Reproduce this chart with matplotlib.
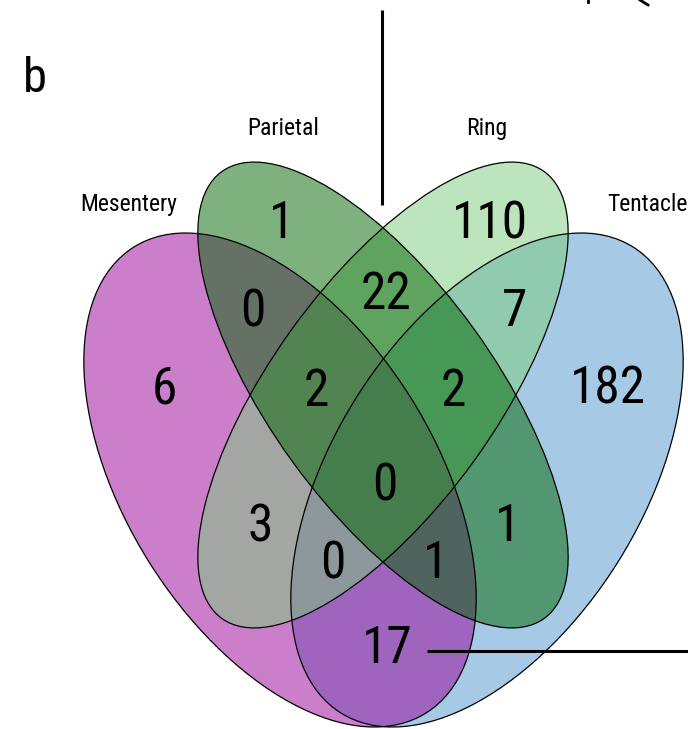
import matplotlib
matplotlib.use('Agg')
import matplotlib.pyplot as plt
from matplotlib import font_manager
from matplotlib.font_manager import FontProperties
from matplotlib.patches import Ellipse

# set names and fill colours (drawn with alpha 0.5)
set_names = ['Mesentery', 'Parietal', 'Ring', 'Tentacle']
set_colors = ['#990099', '#006400', '#7CCD7C', '#4F94CD']

# region counts, keyed by which sets the region belongs to
regions = ['M', 'P', 'R', 'T', 'MP', 'PR', 'RT', 'MPR', 'PRT', 'MPRT', 'MR', 'PT', 'MRT', 'MPT', 'MT']
counts = [6, 1, 110, 182, 0, 22, 7, 2, 2, 0, 3, 1, 0, 1, 17]

# layout in pixel units: ellipse centre, semi axes, rotation
ellipse_geo = {
    'Mesentery': ((280, 480), 275, 154.5, 57.9),
    'Parietal': ((383, 395), 275.5, 112.4, 54.2),
    'Ring': ((383, 395), 275.5, 112.4, -54.2),
    'Tentacle': ((487, 480), 275, 154.5, -57.9),
}
draw_order = ['Tentacle', 'Mesentery', 'Ring', 'Parietal']

label_pos = {
    'Mesentery': (129, 211),
    'Parietal': (283, 135),
    'Ring': (487, 135),
    'Tentacle': (647, 211),
}
count_pos = {
    'M': (164, 385), 'P': (282, 220), 'R': (490, 220), 'T': (608, 385),
    'MP': (253, 308), 'PR': (386, 291), 'RT': (515, 308),
    'MPR': (316, 388), 'PRT': (453, 388), 'MPRT': (385, 482),
    'MR': (260, 523), 'PT': (508, 523), 'MRT': (333, 560), 'MPT': (436, 560),
    'MT': (387, 645),
}


def narrow_font():
    # look for a condensed sans face; fall back to plain Liberation Sans
    wanted = ['Liberation Sans Narrow', 'Arial Narrow', 'Roboto Condensed',
              'Open Sans Condensed', 'DejaVu Sans Condensed']
    stretchy = ('condensed', 'semi-condensed', 'extra-condensed', 'narrow')
    plain = [f for f in font_manager.fontManager.ttflist
             if f.style == 'normal' and f.weight in (400, 'normal', 'regular')]
    for name in wanted:
        for f in plain:
            if f.name == name:
                return FontProperties(fname=f.fname), True
    for base in ['Liberation Sans', 'Roboto', 'Open Sans', 'Noto Sans', 'DejaVu Sans']:
        for f in plain:
            if f.name == base and str(f.stretch) in stretchy:
                return FontProperties(fname=f.fname), True
    for f in plain:
        if 'Narrow' in f.name or 'Condensed' in f.name:
            return FontProperties(fname=f.fname), True
    return FontProperties(family='Liberation Sans'), False


base_font, is_narrow = narrow_font()
shrink = 1.0 if is_narrow else 0.86

W, H = 688, 729
fig = plt.figure(figsize=(W / 100, H / 100), dpi=100)
ax = fig.add_axes([0, 0, 1, 1])
ax.set_xlim(0, W)
ax.set_ylim(H, 0)
ax.axis('off')

# fills first, outlines on top
for name in draw_order:
    (cx, cy), a, b, ang = ellipse_geo[name]
    col = set_colors[set_names.index(name)]
    ax.add_patch(Ellipse((cx, cy), 2 * a, 2 * b, angle=ang,
                         facecolor=col, alpha=0.5, edgecolor='none'))
for name in draw_order:
    (cx, cy), a, b, ang = ellipse_geo[name]
    ax.add_patch(Ellipse((cx, cy), 2 * a, 2 * b, angle=ang,
                         fill=False, edgecolor='black', linewidth=0.9))

num_size = 37 * shrink
cap = 0.716 * num_size * 100 / 72
num_font = base_font.copy()
num_font.set_size(num_size)
for reg, n in zip(regions, counts):
    x, y = count_pos[reg]
    ax.text(x, y + cap / 2, str(n), ha='center', va='baseline',
            fontproperties=num_font, color='black')

lab_font = base_font.copy()
lab_font.set_size(17 * shrink)
for name in set_names:
    x, y = label_pos[name]
    ax.text(x, y, name, ha='center', va='baseline',
            fontproperties=lab_font, color='black')

b_font = base_font.copy()
b_font.set_size(35 * shrink)
ax.text(23, 92, 'b', ha='left', va='baseline', fontproperties=b_font)

# leader lines
ax.plot([382, 382], [10, 205], color='black', linewidth=2.2, solid_capstyle='butt')
ax.plot([427, 688], [651, 651], color='black', linewidth=2.2, solid_capstyle='butt')
ax.plot([588, 588], [0, 2], color='black', linewidth=2)
ax.plot([640, 648], [0, 5], color='black', linewidth=2)

fig.savefig('out.png', dpi=100)
